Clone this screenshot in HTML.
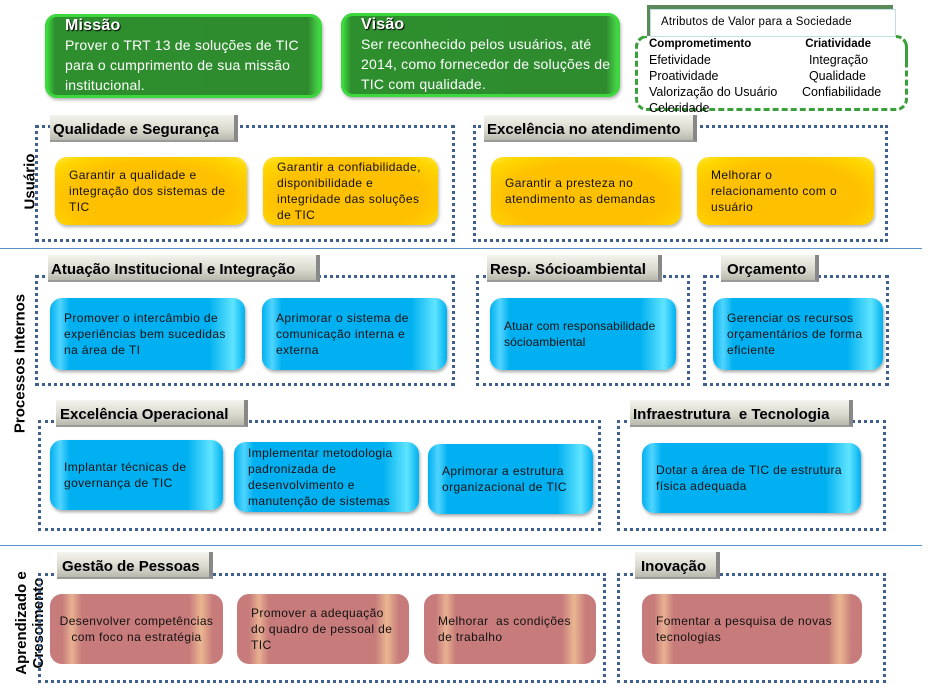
<!DOCTYPE html>
<html><head><meta charset="utf-8"><style>
body{margin:0;width:941px;height:695px;background:#fff;position:relative;overflow:hidden;font-family:"Liberation Sans",sans-serif}
div{position:absolute;box-sizing:border-box}
.g{border-radius:12px;background:linear-gradient(90deg,#3fe83f 0,#2e8f2e 10px,#2e8b2e calc(100% - 14px),#4fe84f 100%);box-shadow:inset 0 0 0 3px #3dd83d,1px 2px 3px rgba(0,0,0,.3);color:#fff;padding:3px 0 0 20px;font-size:14px;line-height:20px;letter-spacing:.2px}
.g b{font-size:16px;display:block;line-height:18px;text-shadow:1px 1px 1px #000}
.dot{border:3px dotted #3f5f8f}
.tab{background:linear-gradient(#f4f4ee,#d8d8cc 60%,#b8b8ac);border-right:4px solid #888;border-bottom:2px solid #999;font-weight:bold;font-size:15px;line-height:29px;padding-left:3px;color:#000;text-shadow:1px 1px 0 #ccc;white-space:nowrap}
.box{border-radius:12px;font-size:12px;line-height:16px;color:#111;display:flex;align-items:center;padding:0 14px 0 14px;letter-spacing:.4px}
.y{background:radial-gradient(ellipse at 50% 60%,#ffc000 60%,#ffd600 85%,#ffe840 100%);box-shadow:1px 2px 3px rgba(0,0,0,.3)}
.b{background:linear-gradient(90deg,#00b0f0 0,#50d4ff 10px,#00b0f0 20px,#00b0f0 calc(100% - 36px),#60e4ff calc(100% - 12px),#00b0f0 100%);box-shadow:1px 2px 3px rgba(0,0,0,.35)}
.p{background:linear-gradient(90deg,#c77b7b 0,#c77b7b 12px,#e8b090 22px,#c77b7b 32px,#c77b7b calc(100% - 34px),#eab690 calc(100% - 22px),#c77b7b calc(100% - 10px));}
.lbl{font-weight:bold;font-size:15px;transform:rotate(-90deg);transform-origin:center;white-space:nowrap;text-align:center;line-height:17px}
.hl{height:1px;background:#5b8fc8;left:0;width:922px}
</style></head><body>
<div class="g" style="left:45px;top:14px;width:277px;height:84px"><b>Missão</b>Prover o TRT 13 de soluções de TIC para o cumprimento de sua missão institucional.</div>
<div class="g" style="left:341px;top:13px;width:279px;height:84px"><b>Visão</b>Ser reconhecido pelos usuários, até 2014, como fornecedor de soluções de TIC com qualidade.</div>

<div style="left:647px;top:5px;width:246px;height:31px;border-top:4px solid #5a8a5a;border-left:4px solid #5a8a5a"></div>
<div style="left:650px;top:9px;width:246px;height:28px;background:#fff;border:1px solid #bfe0e0;font-size:11.5px;padding:6px 0 0 10px;letter-spacing:.2px">Atributos de Valor para a Sociedade</div>
<div style="left:635px;top:35px;width:273px;height:76px;border:3px dashed #3aa03a;border-top-color:transparent;border-radius:12px"></div>
<div style="left:635px;top:35px;width:12px;height:30px;border-left:3px dashed #3aa03a;border-top:3px dashed #3aa03a;border-top-left-radius:12px"></div>
<div style="left:896px;top:35px;width:12px;height:30px;border-right:3px dashed #3aa03a;border-top:3px dashed #3aa03a;border-top-right-radius:12px"></div>
<div style="left:649px;top:35px;font-size:12.5px;line-height:16px;white-space:nowrap"><b style="font-size:11.5px">Comprometimento</b><br>Efetividade<br>Proatividade<br>Valorização do Usuário<br>Celeridade</div>
<div style="left:802px;top:35px;font-size:12.5px;line-height:16px;white-space:nowrap"><b style="font-size:11.5px">&nbsp;Criatividade</b><br>&nbsp;&nbsp;Integração<br>&nbsp;&nbsp;Qualidade<br>Confiabilidade</div>

<div class="lbl" style="left:-10px;top:173px;width:80px">Usuário</div>
<div class="dot" style="left:35px;top:125px;width:420px;height:117px"></div>
<div class="tab" style="left:50px;top:115px;width:188px;height:27px">Qualidade e Segurança</div>
<div class="box y" style="left:55px;top:157px;width:192px;height:68px">Garantir a qualidade e integração dos sistemas de TIC</div>
<div class="box y" style="left:263px;top:157px;width:175px;height:68px;padding-left:14px">Garantir a confiabilidade, disponibilidade e integridade das soluções de TIC</div>
<div class="dot" style="left:473px;top:125px;width:415px;height:117px"></div>
<div class="tab" style="left:484px;top:115px;width:213px;height:27px">Excelência no atendimento</div>
<div class="box y" style="left:491px;top:157px;width:190px;height:68px">Garantir a presteza no atendimento as demandas</div>
<div class="box y" style="left:697px;top:157px;width:177px;height:68px;padding-right:30px">Melhorar o relacionamento com o usuário</div>

<div class="hl" style="top:248px"></div>

<div class="lbl" style="left:-50px;top:355px;width:140px">Processos Internos</div>
<div class="dot" style="left:35px;top:275px;width:420px;height:111px"></div>
<div class="tab" style="left:48px;top:255px;width:272px;height:27px">Atuação Institucional e Integração</div>
<div class="box b" style="left:50px;top:298px;width:195px;height:72px">Promover o intercâmbio de experiências bem sucedidas na área de TI</div>
<div class="box b" style="left:262px;top:298px;width:185px;height:72px">Aprimorar o sistema de comunicação interna e externa</div>
<div class="dot" style="left:476px;top:275px;width:214px;height:111px"></div>
<div class="tab" style="left:487px;top:255px;width:175px;height:27px">Resp. Sócioambiental</div>
<div class="box b" style="left:490px;top:298px;width:186px;height:72px;letter-spacing:.1px;padding-right:8px">Atuar com responsabilidade sócioambiental</div>
<div class="dot" style="left:703px;top:275px;width:186px;height:111px"></div>
<div class="tab" style="left:721px;top:255px;width:98px;height:27px;padding-left:6px">Orçamento</div>
<div class="box b" style="left:713px;top:298px;width:170px;height:72px">Gerenciar os recursos orçamentários de forma eficiente</div>

<div class="dot" style="left:38px;top:420px;width:563px;height:111px"></div>
<div class="tab" style="left:56px;top:400px;width:192px;height:27px;padding-left:4px">Excelência Operacional</div>
<div class="box b" style="left:50px;top:440px;width:173px;height:70px">Implantar técnicas de governança de TIC</div>
<div class="box b" style="left:234px;top:442px;width:185px;height:70px">Implementar metodologia padronizada de desenvolvimento e manutenção de sistemas</div>
<div class="box b" style="left:428px;top:444px;width:165px;height:70px">Aprimorar a estrutura organizacional de TIC</div>
<div class="dot" style="left:617px;top:420px;width:269px;height:111px"></div>
<div class="tab" style="left:630px;top:400px;width:223px;height:27px">Infraestrutura &nbsp;e Tecnologia</div>
<div class="box b" style="left:642px;top:443px;width:219px;height:70px">Dotar a área de TIC de estrutura física adequada</div>

<div class="hl" style="top:545px"></div>

<div class="lbl" style="left:-30px;top:606px;width:120px;height:34px">Aprendizado e<br>Crescimento</div>
<div class="dot" style="left:38px;top:573px;width:568px;height:110px"></div>
<div class="tab" style="left:57px;top:552px;width:156px;height:27px;padding-left:5px">Gestão de Pessoas</div>
<div class="box p" style="left:50px;top:594px;width:173px;height:70px;text-align:center;padding:0 8px">Desenvolver competências com foco na estratégia</div>
<div class="box p" style="left:237px;top:594px;width:172px;height:70px">Promover a adequação do quadro de pessoal de TIC</div>
<div class="box p" style="left:424px;top:594px;width:172px;height:70px">Melhorar &nbsp;as condições de trabalho</div>
<div class="dot" style="left:617px;top:573px;width:269px;height:110px"></div>
<div class="tab" style="left:635px;top:552px;width:85px;height:27px;padding-left:6px">Inovação</div>
<div class="box p" style="left:642px;top:594px;width:220px;height:70px">Fomentar a pesquisa de novas tecnologias</div>
</body></html>
